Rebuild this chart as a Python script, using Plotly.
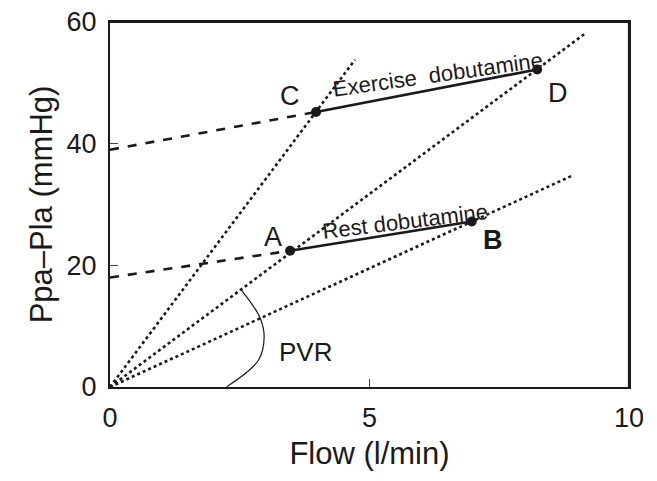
import plotly.graph_objects as go

# Data points (Flow l/min, Ppa-Pla mmHg)
point_names = ["A", "B", "C", "D"]
flow = [3.47, 6.97, 3.97, 8.23]
pressure = [22.4, 27.2, 45.2, 52.2]

# Extrapolated intercepts of pressure-flow lines
rest_intercept = 18.0
exercise_intercept = 39.0

# Dotted PVR iso-lines from origin: end points
pvr_line_x_end = [4.72, 9.17, 8.92]
pvr_line_y_end = [53.8, 58.2, 34.8]

# PVR arc guide
arc_x = [2.52, 2.89, 2.97, 2.86, 2.25]
arc_y = [16.05, 11.4, 8.2, 4.4, 0.05]

# Axis ranges
x_range = [0, 10]
y_range = [0, 60]

FONT = "Liberation Sans, Arial, Helvetica, sans-serif"
BLACK = "#1a1a1a"

fig = go.Figure()

# frame (top and right edges) drawn from the axis ranges
fig.add_trace(go.Scatter(x=[x_range[0], x_range[1], x_range[1]],
                         y=[y_range[1], y_range[1], y_range[0]], mode="lines",
                         line=dict(color=BLACK, width=2.2), cliponaxis=False,
                         hoverinfo="skip", showlegend=False))

for xe, ye in zip(pvr_line_x_end, pvr_line_y_end):
    fig.add_trace(go.Scatter(x=[0, xe], y=[0, ye], mode="lines",
                             line=dict(color=BLACK, width=2.6, dash="dot"),
                             hoverinfo="skip", showlegend=False))

fig.add_trace(go.Scatter(x=[0, flow[0]], y=[rest_intercept, pressure[0]], mode="lines",
                         line=dict(color=BLACK, width=2.6, dash="dash"), showlegend=False))
fig.add_trace(go.Scatter(x=[0, flow[2]], y=[exercise_intercept, pressure[2]], mode="lines",
                         line=dict(color=BLACK, width=2.6, dash="dash"), showlegend=False))

fig.add_trace(go.Scatter(x=[flow[0], flow[1]], y=[pressure[0], pressure[1]], mode="lines+markers",
                         line=dict(color=BLACK, width=2.6),
                         marker=dict(color=BLACK, size=10), showlegend=False))
fig.add_trace(go.Scatter(x=[flow[2], flow[3]], y=[pressure[2], pressure[3]], mode="lines+markers",
                         line=dict(color=BLACK, width=2.6),
                         marker=dict(color=BLACK, size=10), showlegend=False))

fig.add_trace(go.Scatter(x=arc_x, y=arc_y, mode="lines",
                         line=dict(color=BLACK, width=1.2, shape="spline"), showlegend=False))

label_pos = {"A": (3.14, 24.7), "B": (7.38, 24.2), "C": (3.47, 47.8), "D": (8.63, 48.3)}
for name, (lx, ly) in label_pos.items():
    txt = "<b>B</b>" if name == "B" else name
    fig.add_annotation(x=lx, y=ly, text=txt, showarrow=False,
                       font=dict(family=FONT, size=27, color=BLACK))

fig.add_annotation(x=3.76, y=5.7, text="PVR", showarrow=False,
                   font=dict(family=FONT, size=26, color=BLACK))
fig.add_annotation(x=6.32, y=51.4, text="Exercise  dobutamine", showarrow=False, textangle=-8,
                   font=dict(family=FONT, size=22, color=BLACK))
fig.add_annotation(x=5.68, y=27.2, text="Rest dobutamine", showarrow=False, textangle=-7,
                   font=dict(family=FONT, size=22, color=BLACK))

fig.update_layout(
    width=657, height=481,
    margin=dict(l=102, r=36, t=14, b=102),
    paper_bgcolor="white", plot_bgcolor="white",
    font=dict(family=FONT, color=BLACK),
    xaxis=dict(range=x_range, tickvals=[0, 5, 10], ticks="inside", ticklen=8,
               showline=True, linecolor=BLACK, linewidth=2, mirror=True,
               showgrid=False, zeroline=False, tickfont=dict(size=27),
               ticklabelstandoff=6, ticklabeloverflow="allow", automargin="bottom",
               title=dict(text="Flow (l/min)", font=dict(size=31), standoff=10)),
    yaxis=dict(range=y_range, tickvals=[0, 20, 40, 60], ticks="inside", ticklen=8,
               showline=True, linecolor=BLACK, linewidth=2, mirror=True,
               showgrid=False, zeroline=False, tickfont=dict(size=27),
               ticklabelstandoff=6, ticklabeloverflow="allow", automargin="left",
               title=dict(text="Ppa–Pla (mmHg)", font=dict(size=31), standoff=5)),
)

fig.write_html("out.html")
